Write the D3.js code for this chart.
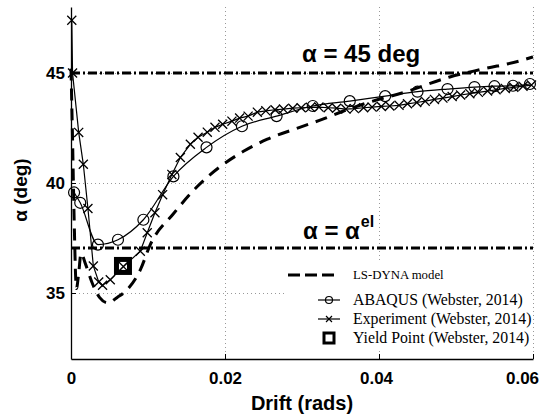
<!DOCTYPE html>
<meta charset="utf-8">
<style>
    * { margin: 0px; }
    body { background: #fff; }
    text { font-family: "Liberation Sans", Arial, sans-serif; }
    .tick text { font-size: 17px; font-weight: bold; }
    .legend text { font-family: "Liberation Serif", "Times New Roman", serif; }
</style>
<svg width="554" height="417"></svg>
<script src="https://d3js.org/d3.v7.min.js"></script>
<script>
    // LS-DYNA model (dashed)
    var lsX = [0, 0.0002, 0.0004, 0.0007, 0.001, 0.0013, 0.0019, 0.0027, 0.0037, 0.0048, 0.006, 0.0073, 0.009, 0.0103,
               0.0133, 0.0164, 0.0194, 0.0224, 0.0255, 0.0297, 0.0327, 0.0353, 0.0379, 0.0438, 0.0492, 0.0535, 0.0583, 0.06];
    var lsY = [45.2, 42.0, 38.5, 35.2, 35.9, 36.8, 36.3, 35.5, 34.8, 34.55, 34.8, 35.15, 36.05, 37.2,
               38.6, 39.84, 40.75, 41.44, 41.99, 42.53, 42.9, 43.26, 43.58, 44.18, 44.82, 45.18, 45.55, 45.73];

    // ABAQUS (Webster, 2014)
    var abX = [0.0004, 0.0012, 0.0035, 0.0061, 0.0094, 0.0133, 0.0176, 0.0222, 0.0267, 0.0314, 0.0362, 0.0408,
               0.045, 0.0489, 0.0524, 0.055, 0.0574, 0.0596];
    var abY = [39.57, 39.1, 37.2, 37.42, 38.33, 40.3, 41.62, 42.58, 43.04, 43.5, 43.72, 43.95,
               44.15, 44.27, 44.36, 44.4, 44.42, 44.5];

    // Experiment (Webster, 2014)
    var exX = [0.0001, 0.0002, 0.001, 0.0016, 0.0022, 0.0029, 0.0036, 0.0041, 0.0051, 0.0068, 0.009, 0.0099,
               0.0109, 0.0119, 0.0131, 0.0142, 0.0155, 0.0165, 0.0177, 0.0187, 0.0197, 0.0209, 0.0219, 0.023, 0.0242,
               0.0253, 0.0265, 0.0276, 0.0288, 0.0299, 0.0311, 0.0322, 0.0334, 0.0345, 0.0357, 0.0368, 0.038, 0.0391,
               0.0403, 0.0414, 0.0426, 0.0437, 0.0449, 0.046, 0.0472, 0.0483, 0.0495, 0.0506, 0.0518, 0.0529, 0.0541,
               0.0552, 0.0564, 0.0575, 0.0587, 0.0598];
    var exY = [47.4, 45.0, 42.3, 40.85, 38.84, 36.23, 35.5, 35.35, 35.6, 36.2, 36.9, 37.74,
               38.65, 39.47, 40.39, 41.16, 41.76, 42.08, 42.31, 42.53, 42.67, 42.81, 42.95, 43.04, 43.22,
               43.28, 43.33, 43.36, 43.4, 43.42, 43.44, 43.45, 43.42, 43.4, 43.36, 43.38, 43.42, 43.45,
               43.48, 43.5, 43.53, 43.6, 43.66, 43.72, 43.8, 43.86, 43.93, 44.0, 44.06, 44.12, 44.18,
               44.24, 44.3, 44.35, 44.4, 44.45];

    var yieldPt = [0.00675, 36.23];
    var alpha45 = 45.0, alphaEl = 37.05;

    var xTicks = [0, 0.02, 0.04, 0.06];
    var yTicks = [35, 40, 45];

    var svg = d3.select("svg");
    var pLeft = 71, pRight = 533, pTop = 7, pBottom = 359;

    var x = d3.scaleLinear().domain([0, 0.06]).range([pLeft, pRight]);
    var y = d3.scaleLinear().domain([32, 48]).range([pBottom, pTop]);

    // grid
    var grid = svg.append("g").attr("stroke", "#999").attr("stroke-width", 1).attr("stroke-dasharray", "1,3");
    grid.selectAll(".gx").data(xTicks.slice(1)).enter().append("line")
        .attr("x1", function(d) { return Math.round(x(d)) + 0.5; }).attr("x2", function(d) { return Math.round(x(d)) + 0.5; })
        .attr("y1", pTop).attr("y2", pBottom);
    grid.selectAll(".gy").data(yTicks).enter().append("line")
        .attr("x1", pLeft).attr("x2", pRight)
        .attr("y1", function(d) { return Math.round(y(d)) + 0.5; }).attr("y2", function(d) { return Math.round(y(d)) + 0.5; });

    // axes
    var xAxis = svg.append("g").attr("transform", "translate(0," + pBottom + ")")
        .call(d3.axisBottom(x).tickValues(xTicks).tickFormat(function(d) { return d === 0 ? "0" : d3.format(".2f")(d); })
            .tickSizeInner(-5).tickSizeOuter(0).tickPadding(10));
    xAxis.selectAll("text").attr("fill", "#000").attr("dy", "0.9em");
    xAxis.selectAll(".tick").filter(function(d) { return d === 0.06; }).select("text").attr("dx", -11);
    xAxis.selectAll(".tick").filter(function(d) { return d === 0.04; }).select("text").attr("dx", -3);
    var yAxis = svg.append("g").attr("transform", "translate(" + pLeft + ",0)")
        .call(d3.axisLeft(y).tickValues(yTicks).tickSizeInner(-5).tickSizeOuter(0).tickPadding(6));
    yAxis.selectAll("text").attr("fill", "#000");
    svg.selectAll(".domain").attr("stroke", "#000").attr("stroke-width", 1.3);
    svg.selectAll(".tick line").attr("stroke", "#000");

    // reference lines
    svg.selectAll(".ref").data([alpha45, alphaEl]).enter().append("line")
        .attr("x1", x(0)).attr("x2", x(0.06))
        .attr("y1", function(d) { return y(d); }).attr("y2", function(d) { return y(d); })
        .attr("stroke", "#000").attr("stroke-width", 3).attr("stroke-dasharray", "9,3,2,3");

    function pts(xs, ys) { return xs.map(function(v, i) { return [v, ys[i]]; }); }
    var line = d3.line().x(function(d) { return x(d[0]); }).y(function(d) { return y(d[1]); });

    // LS-DYNA
    svg.append("path").datum(pts(lsX, lsY))
        .attr("d", line.curve(d3.curveMonotoneX))
        .attr("fill", "none").attr("stroke", "#000").attr("stroke-width", 3).attr("stroke-dasharray", "12,8");

    // ABAQUS
    var ab = pts(abX, abY);
    svg.append("path").datum(ab).attr("d", line.curve(d3.curveMonotoneX))
        .attr("fill", "none").attr("stroke", "#000").attr("stroke-width", 1.2);
    svg.selectAll(".ab").data(ab).enter().append("circle")
        .attr("cx", function(d) { return x(d[0]); }).attr("cy", function(d) { return y(d[1]); })
        .attr("r", 5.5).attr("fill", "none").attr("stroke", "#000").attr("stroke-width", 1.2);

    // Experiment
    var ex = pts(exX, exY);
    svg.append("path").datum(ex).attr("d", line.curve(d3.curveLinear))
        .attr("fill", "none").attr("stroke", "#000").attr("stroke-width", 1.2);
    var xm = d3.symbol().type(d3.symbolX).size(55);
    svg.selectAll(".ex").data(ex).enter().append("path")
        .attr("d", xm)
        .attr("transform", function(d) { return "translate(" + x(d[0]) + "," + y(d[1]) + ")"; })
        .attr("fill", "none").attr("stroke", "#000").attr("stroke-width", 1.3);

    // yield point
    svg.append("rect")
        .attr("x", x(yieldPt[0]) - 6.5).attr("y", y(yieldPt[1]) - 6.5).attr("width", 13).attr("height", 13)
        .attr("fill", "none").attr("stroke", "#000").attr("stroke-width", 5);

    // annotations
    svg.append("text").attr("x", 302).attr("y", 62).attr("font-size", 24).attr("font-weight", "bold").text("α = 45 deg");
    var el = svg.append("text").attr("x", 303).attr("y", 239).attr("font-size", 24).attr("font-weight", "bold");
    el.append("tspan").text("α = α");
    el.append("tspan").attr("dx", 1).attr("dy", -12).attr("font-size", 16).text("el");

    // axis labels
    svg.append("text").attr("x", (pLeft + pRight) / 2).attr("y", 410).attr("text-anchor", "middle")
        .attr("font-size", 20).attr("font-weight", "bold").text("Drift (rads)");
    svg.append("text").attr("transform", "translate(27,190) rotate(-90)").attr("text-anchor", "middle")
        .attr("font-size", 19).attr("font-weight", "bold").text("α (deg)");

    // legend
    var lg = svg.append("g").attr("class", "legend");
    lg.append("rect").attr("x", 284).attr("y", 262).attr("width", 246).attr("height", 86).attr("fill", "#fff");
    lg.append("line").attr("x1", 288).attr("x2", 334).attr("y1", 275).attr("y2", 275)
        .attr("stroke", "#000").attr("stroke-width", 3).attr("stroke-dasharray", "12,5");
    lg.append("line").attr("x1", 318).attr("x2", 340).attr("y1", 300).attr("y2", 300).attr("stroke", "#000").attr("stroke-width", 1.2);
    lg.append("circle").attr("cx", 329).attr("cy", 300).attr("r", 3.5).attr("fill", "none").attr("stroke", "#000").attr("stroke-width", 1.2);
    lg.append("line").attr("x1", 318).attr("x2", 340).attr("y1", 319).attr("y2", 319).attr("stroke", "#000").attr("stroke-width", 1.2);
    lg.append("path").attr("d", d3.symbol().type(d3.symbolX).size(25)).attr("transform", "translate(329,319)")
        .attr("fill", "none").attr("stroke", "#000").attr("stroke-width", 1.2);
    lg.append("rect").attr("x", 324).attr("y", 333).attr("width", 10).attr("height", 10)
        .attr("fill", "none").attr("stroke", "#000").attr("stroke-width", 3);
    var labels = ["LS-DYNA model", "ABAQUS (Webster, 2014)", "Experiment (Webster, 2014)", "Yield Point (Webster, 2014)"];
    var ly = [279, 305, 324, 343], lfs = [12.8, 15.8, 15.8, 15.8];
    lg.selectAll(".lt").data(labels).enter().append("text")
        .attr("x", 353).attr("y", function(d, i) { return ly[i]; })
        .attr("font-size", function(d, i) { return lfs[i]; })
        .text(function(d) { return d; });
</script>
